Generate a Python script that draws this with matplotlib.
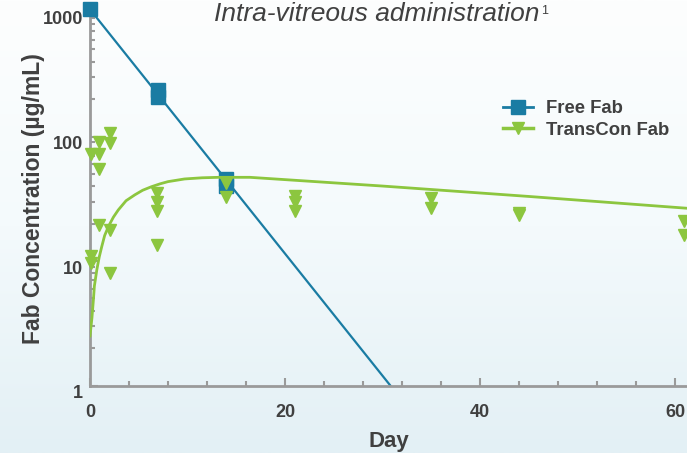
import matplotlib
matplotlib.use('Agg')
import matplotlib.pyplot as plt
import matplotlib.transforms as mtransforms
from matplotlib.colors import LinearSegmentedColormap
from matplotlib.lines import Line2D
from matplotlib.ticker import MultipleLocator, FixedLocator, NullFormatter
import numpy as np

plt.rcParams['font.family'] = ['Liberation Sans', 'DejaVu Sans']

# Free Fab measurements (day, ug/mL)
free_days = [0, 7, 7, 14, 14]
free_conc = [1050, 236, 206, 45.6, 40]
# fitted mono-exponential decline of free Fab
free_fit_days = [0, 30.8]
free_fit_conc = [1050, 1]

# TransCon Fab measurements
transcon_days = [0.1, 0.1, 0.1, 0.95, 0.95, 0.95, 0.95, 2, 2, 2, 2,
                 6.9, 6.9, 6.9, 6.9, 13.9, 13.9, 21, 21, 21,
                 35, 35, 44, 44, 60.9, 60.9]
transcon_conc = [73, 11, 9.6, 91, 72, 55, 19.5, 106, 88, 17.7, 8,
                 35, 30, 25.4, 13.4, 42, 32.8, 33, 30, 25,
                 32, 26.5, 24.5, 23.4, 21, 16.3]
# fitted TransCon Fab curve
transcon_fit_days = [0, 0.2, 0.35, 0.45, 0.7, 0.95, 1.2, 1.5, 1.9, 2.4, 2.9,
                     3.7, 4.6, 5.4, 6.3, 7.2, 8, 9.7, 11.5, 13.2, 16.4,
                     30, 45, 61.3]
transcon_fit_conc = [2.5, 3.5, 4.9, 6.3, 8.5, 10.8, 13, 16, 19, 22.5, 25.7,
                     30.5, 34, 37, 39.5, 41.7, 43.4, 45.6, 46.6, 47, 47,
                     40, 33, 26.5]

x_ticks = [0, 20, 40, 60]
y_ticks = [1, 10, 100, 1000]

TEAL = '#1a7ca3'
GREEN = '#8cc63f'
TEXT = '#404040'
AXIS = '#9a9a9a'

W, H = 687, 453
fig = plt.figure(figsize=(W / 100, H / 100), dpi=100)

# soft vertical gradient background
bg = fig.add_axes([0, 0, 1, 1], zorder=-1)
cmap = LinearSegmentedColormap.from_list('bg', ['#fdfefe', '#f4fafc', '#e3f0f5'])
bg.imshow(np.linspace(0, 1, 256).reshape(-1, 1), aspect='auto', cmap=cmap,
          extent=[0, 1, 0, 1], origin='upper')
bg.axis('off')

x0, x1, ytop, ybot = 90, 687, 12, 385.5
ax = fig.add_axes([x0 / W, 1 - ybot / H, (x1 - x0) / W, (ybot - ytop) / H])
ax.patch.set_alpha(0)

ax.plot(free_fit_days, free_fit_conc, color=TEAL, lw=1.6, zorder=2)
ax.plot(free_days, free_conc, ls='none', marker='s', ms=10, color=TEAL,
        zorder=3, clip_on=False)
ax.plot(transcon_fit_days, transcon_fit_conc, color=GREEN, lw=2, zorder=4)
ax.plot(transcon_days, transcon_conc, ls='none', marker='v', ms=8.5,
        color=GREEN, zorder=5, clip_on=False)

ax.set_yscale('log')
ax.set_ylim(1, 1000)
ax.set_xlim(0, (x1 - x0) / 9.75)

ax.xaxis.set_major_locator(FixedLocator(x_ticks))
ax.xaxis.set_minor_locator(MultipleLocator(4))
ax.yaxis.set_major_locator(FixedLocator(y_ticks))
ax.yaxis.set_minor_formatter(NullFormatter())
ax.set_yticklabels([str(v) for v in y_ticks])

for s in ['top', 'right']:
    ax.spines[s].set_visible(False)
for s in ['left', 'bottom']:
    ax.spines[s].set_color(AXIS)
    ax.spines[s].set_linewidth(2)

ax.tick_params(which='both', direction='in', color=AXIS, width=1.5)
ax.tick_params(which='major', length=6)
ax.tick_params(which='minor', length=3.5)
ax.tick_params(axis='x', which='major', pad=13, labelsize=13,
               labelcolor=TEXT)
ax.tick_params(axis='y', which='major', pad=5, labelsize=13,
               labelcolor=TEXT)
for lab in ax.get_xticklabels() + ax.get_yticklabels():
    lab.set_fontweight('bold')
# y labels sit a little below their ticks in the original
shift = mtransforms.ScaledTranslation(0, -6 / 100, fig.dpi_scale_trans)
for lab in ax.get_yticklabels():
    lab.set_transform(lab.get_transform() + shift)

ax.set_xlabel('Day', fontsize=16, fontweight='bold', color=TEXT)
ax.xaxis.set_label_coords(0.5, -0.122)
ax.set_ylabel('Fab Concentration (µg/mL)', fontsize=16.5, fontweight='bold',
              color=TEXT)
ax.yaxis.set_label_coords(-0.076, 0.5)

handles = [Line2D([], [], color=TEAL, lw=2, marker='s', ms=10),
           Line2D([], [], color=GREEN, lw=2.5, marker='v', ms=8.5)]
fig.legend(handles, ['Free Fab', 'TransCon Fab'], loc='upper left',
           bbox_to_anchor=(503 / W, 1 - 100 / H), frameon=False,
           prop={'size': 13.3, 'weight': 'bold'}, labelcolor=TEXT,
           handlelength=1.6, handletextpad=0.75, labelspacing=0.25,
           borderpad=0, borderaxespad=0)

title = fig.text(377 / W, 1 - 21 / H, 'Intra-vitreous administration',
                 style='italic', fontsize=19, color=TEXT, ha='center',
                 va='baseline')
ax.annotate('1', xy=(1, 1), xycoords=title, xytext=(1, -2),
            textcoords='offset points', fontsize=9, color=TEXT,
            ha='left', va='top', annotation_clip=False)

fig.savefig('out.png', dpi=100)
